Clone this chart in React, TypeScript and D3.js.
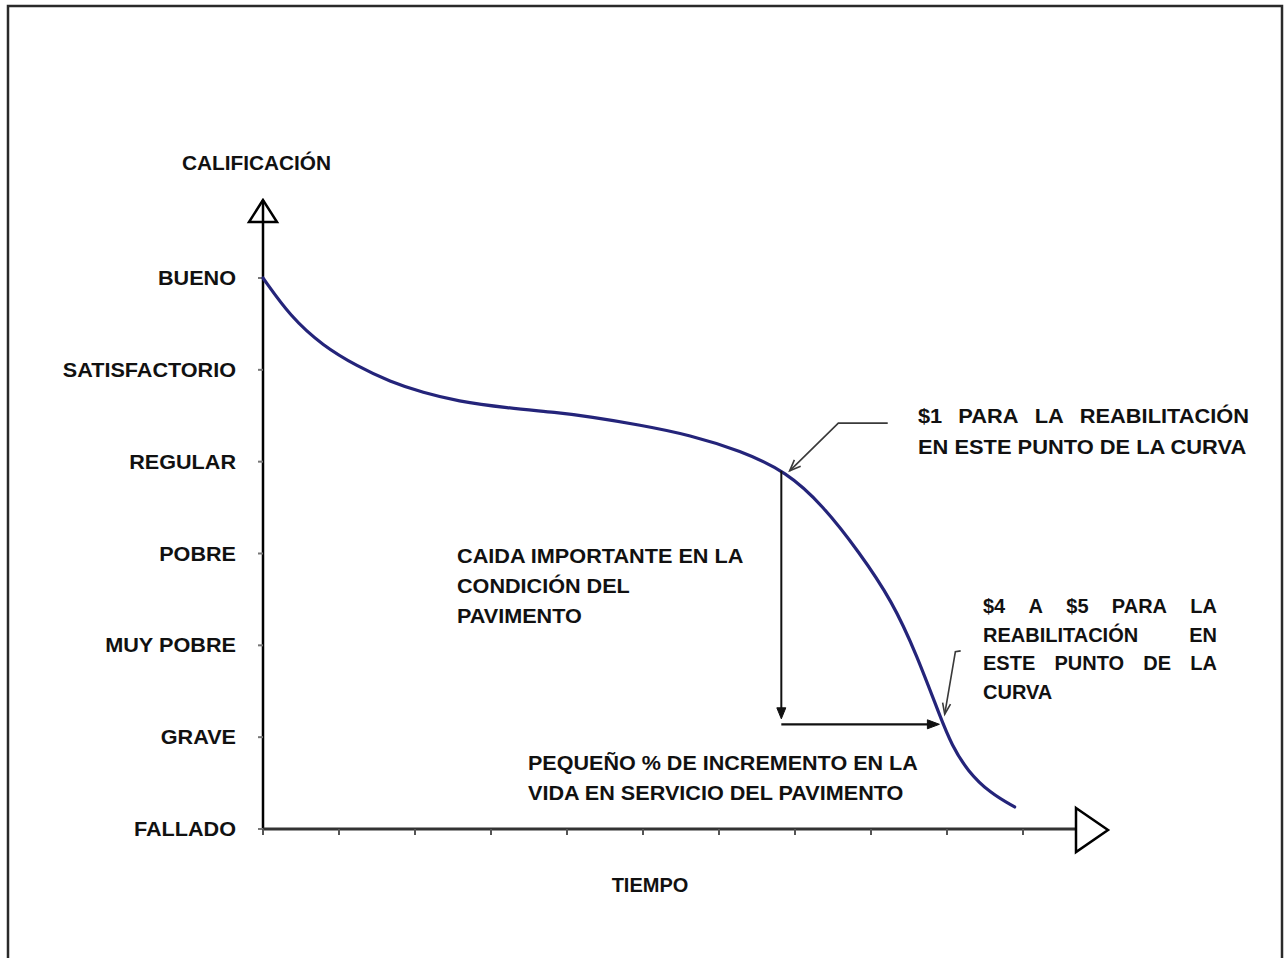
import React from "react";
import * as d3 from "d3";

// rating categories, bottom to top
const ratingLabels = ["FALLADO", "GRAVE", "MUY POBRE", "POBRE", "REGULAR", "SATISFACTORIO", "BUENO"];
const timeTicks = [0, 1, 2, 3, 4, 5, 6, 7, 8, 9, 10];

// deterioration curve (time units, rating units)
const curveT = [0, 0.36, 0.79, 1.24, 1.67, 2.11, 2.55, 3.21, 3.87, 4.3, 4.96, 5.62, 6.28, 6.89, 7.37, 7.84, 8.28, 8.6, 8.92, 9.06, 9.27, 9.57, 9.89];
const curveR = [6.0, 5.58, 5.26, 5.04, 4.87, 4.75, 4.66, 4.585, 4.535, 4.49, 4.4, 4.29, 4.12, 3.89, 3.52, 3.02, 2.48, 1.9, 1.2, 0.92, 0.63, 0.39, 0.24];

// annotation anchors (data units)
const dropT = 6.82;
const dropR = [3.9, 1.2];
const spanT = [6.82, 8.9];
const spanR = 1.14;
const leader1T = [8.22, 7.57, 6.93];
const leader1R = [4.42, 4.42, 3.9];
const leader2T = [9.18, 9.11, 8.97];
const leader2R = [1.94, 1.93, 1.25];

const yTitle = "CALIFICACIÓN";
const xTitle = "TIEMPO";
const note1 = ["CAIDA IMPORTANTE EN LA", "CONDICIÓN DEL", "PAVIMENTO"];
const note2 = ["$1 PARA LA REABILITACIÓN", "EN ESTE PUNTO DE LA CURVA"];
const note3 = ["$4 A $5 PARA LA", "REABILITACIÓN EN", "ESTE PUNTO DE LA", "CURVA"];
const note4 = ["PEQUEÑO % DE INCREMENTO EN LA", "VIDA EN SERVICIO DEL PAVIMENTO"];

const FAMILY = "'Liberation Sans', Arial, Helvetica, sans-serif";
const FS = 20;
let ctx: CanvasRenderingContext2D | null = null;
function measure(s: string) {
  if (!ctx) ctx = document.createElement("canvas").getContext("2d");
  if (!ctx) return s.length * FS * 0.6;
  ctx.font = `bold ${FS}px ${FAMILY}`;
  return ctx.measureText(s).width;
}

function Line({ text, x, y, sx = 1, anchor = "start" }: any) {
  const w = measure(text) * sx;
  const x0 = anchor === "end" ? x - w : anchor === "middle" ? x - w / 2 : x;
  return (
    <text x={x0} y={y} textLength={w} lengthAdjust="spacingAndGlyphs">{text}</text>
  );
}

// a text block, the first `just` lines spread to `width`
function Block({ lines, x, y, lh, sx = 1, width = 0, just = 0 }: any) {
  return (
    <g>
      {lines.map((ln: string, i: number) => {
        const by = y + i * lh;
        if (i < just) {
          const words = ln.split(" ");
          const ws = words.map((w) => measure(w) * sx);
          const gap = (width - d3.sum(ws)) / (words.length - 1);
          let cx = x;
          return words.map((w, j) => {
            const el = (
              <text key={i + "-" + j} x={cx} y={by} textLength={ws[j]} lengthAdjust="spacingAndGlyphs">{w}</text>
            );
            cx += ws[j] + gap;
            return el;
          });
        }
        return <Line key={i} text={ln} x={x} y={by} sx={sx} />;
      })}
    </g>
  );
}

function head(tip: number[], from: number[], len: number, half: number) {
  const dx = tip[0] - from[0];
  const dy = tip[1] - from[1];
  const d = Math.hypot(dx, dy);
  const ux = dx / d, uy = dy / d;
  const bx = tip[0] - ux * len, by = tip[1] - uy * len;
  return [[bx - uy * half, by + ux * half], tip, [bx + uy * half, by - ux * half]];
}

export default function App() {
  const width = 1288;
  const height = 958;

  const x = d3.scaleLinear().domain([0, 10]).range([263, 1023]);
  const y = d3.scaleLinear().domain([0, 6]).range([829, 278]);

  const pts: [number, number][] = curveT.map((t, i) => [x(t), y(curveR[i])]);
  const curve = d3.line().curve(d3.curveBasis)(pts) || "";

  const axisX = x(0);
  const axisY = y(0);

  const l1 = leader1T.map((t, i) => [x(t), y(leader1R[i])]);
  const l2 = leader2T.map((t, i) => [x(t), y(leader2R[i])]);
  const h1 = head(l1[2], l1[1], 11, 4.5);
  const h2 = head(l2[2], l2[1], 11, 4);

  const dTop = [x(dropT), y(dropR[0])];
  const dBot = [x(dropT), y(dropR[1])];
  const sL = [x(spanT[0]), y(spanR)];
  const sR = [x(spanT[1]), y(spanR)];
  const hd = head(dBot, dTop, 11, 4.5);
  const hs = head(sR, sL, 12, 4.5);

  const line = d3.line();

  return (
    <svg width={width} height={height} style={{ position: "absolute", left: 0, top: 0, background: "#fff" }}
      fontFamily={FAMILY} fontWeight="bold" fontSize={FS} fill="#111">
      <rect x={8} y={6} width={1274} height={1000} fill="none" stroke="#2a2a2a" strokeWidth={2.5} />

      {/* y axis */}
      <line x1={axisX} y1={200} x2={axisX} y2={axisY} stroke="#000" strokeWidth={2.5} />
      <path d={`M${axisX},200 L${axisX - 14},222 L${axisX + 14},222 Z`} fill="none" stroke="#000" strokeWidth={2.5} strokeLinejoin="miter" />
      {ratingLabels.map((lab, i) => (
        <g key={lab}>
          <line x1={axisX - 5} y1={y(i)} x2={axisX} y2={y(i)} stroke="#777" strokeWidth={2} />
          <Line text={lab} x={236} y={y(i) + 7} sx={1.08} anchor="end" />
        </g>
      ))}
      <Line text={yTitle} x={182} y={170} sx={1.04} />

      {/* x axis */}
      <line x1={axisX} y1={axisY} x2={1076} y2={axisY} stroke="#333" strokeWidth={3} />
      {timeTicks.map((t) => (
        <line key={t} x1={x(t)} y1={axisY} x2={x(t)} y2={axisY + 6} stroke="#555" strokeWidth={2} />
      ))}
      <path d={`M1076,808 L1108,830 L1076,852 Z`} fill="#fff" stroke="#000" strokeWidth={2.5} />
      <Line text={xTitle} x={650} y={892} sx={1.0} anchor="middle" />

      {/* curve */}
      <path d={curve} fill="none" stroke="#24247a" strokeWidth={3.2} strokeLinecap="round" />

      {/* drop + span arrows */}
      <line x1={dTop[0]} y1={dTop[1]} x2={dBot[0]} y2={dBot[1] - 6} stroke="#111" strokeWidth={2} />
      <path d={line(hd as any) + "Z"} fill="#111" stroke="#111" strokeWidth={1} />
      <line x1={sL[0]} y1={sL[1]} x2={sR[0] - 6} y2={sR[1]} stroke="#111" strokeWidth={2.2} />
      <path d={line(hs as any) + "Z"} fill="#111" stroke="#111" strokeWidth={1} />

      {/* leaders */}
      <path d={line(l1 as any) || ""} fill="none" stroke="#3a3a3a" strokeWidth={1.6} />
      <path d={line(h1 as any) || ""} fill="none" stroke="#3a3a3a" strokeWidth={1.6} />
      <path d={line(l2 as any) || ""} fill="none" stroke="#3a3a3a" strokeWidth={1.6} />
      <path d={line(h2 as any) || ""} fill="none" stroke="#3a3a3a" strokeWidth={1.6} />

      {/* notes */}
      <Block lines={note1} x={457} y={563} lh={30} sx={1.08} />
      <Block lines={note2} x={918} y={423} lh={31} sx={1.09} width={331} just={1} />
      <Block lines={note3} x={983} y={613} lh={28.5} sx={1.0} width={234} just={3} />
      <Block lines={note4} x={528} y={770} lh={30} sx={1.077} />
    </svg>
  );
}
